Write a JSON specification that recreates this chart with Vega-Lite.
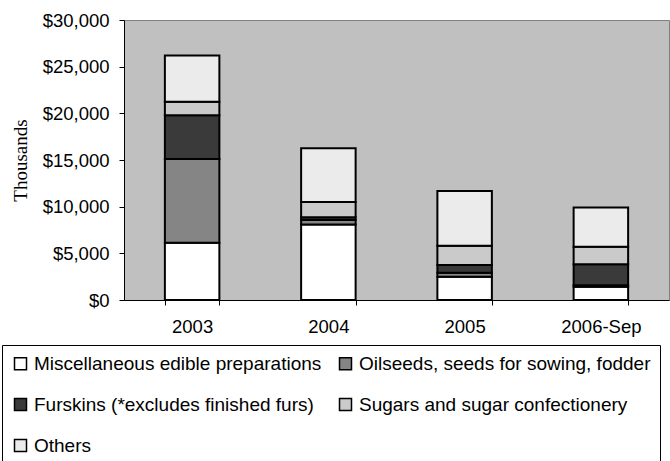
{
  "$schema": "https://vega.github.io/schema/vega-lite/v6.json",
  "width": 545,
  "height": 280,
  "autosize": "none",
  "padding": {"left": 124, "top": 20, "right": 1, "bottom": 161},
  "background": "white",
  "config": {
    "view": {"fill": "#c0c0c0", "stroke": "#808080", "strokeWidth": 1},
    "font": "Liberation Sans"
  },
  "data": {
    "values": [
      {"year": "2003", "cat": "Miscellaneous edible preparations", "o": 1, "v": 6140},
      {"year": "2003", "cat": "Oilseeds, seeds for sowing, fodder", "o": 2, "v": 8960},
      {"year": "2003", "cat": "Furskins (*excludes finished furs)", "o": 3, "v": 4700},
      {"year": "2003", "cat": "Sugars and sugar confectionery", "o": 4, "v": 1450},
      {"year": "2003", "cat": "Others", "o": 5, "v": 4950},
      {"year": "2004", "cat": "Miscellaneous edible preparations", "o": 1, "v": 8100},
      {"year": "2004", "cat": "Oilseeds, seeds for sowing, fodder", "o": 2, "v": 470},
      {"year": "2004", "cat": "Furskins (*excludes finished furs)", "o": 3, "v": 290},
      {"year": "2004", "cat": "Sugars and sugar confectionery", "o": 4, "v": 1640},
      {"year": "2004", "cat": "Others", "o": 5, "v": 5750},
      {"year": "2005", "cat": "Miscellaneous edible preparations", "o": 1, "v": 2500},
      {"year": "2005", "cat": "Oilseeds, seeds for sowing, fodder", "o": 2, "v": 430},
      {"year": "2005", "cat": "Furskins (*excludes finished furs)", "o": 3, "v": 820},
      {"year": "2005", "cat": "Sugars and sugar confectionery", "o": 4, "v": 2070},
      {"year": "2005", "cat": "Others", "o": 5, "v": 5860},
      {"year": "2006-Sep", "cat": "Miscellaneous edible preparations", "o": 1, "v": 1430},
      {"year": "2006-Sep", "cat": "Oilseeds, seeds for sowing, fodder", "o": 2, "v": 150},
      {"year": "2006-Sep", "cat": "Furskins (*excludes finished furs)", "o": 3, "v": 2240},
      {"year": "2006-Sep", "cat": "Sugars and sugar confectionery", "o": 4, "v": 1890},
      {"year": "2006-Sep", "cat": "Others", "o": 5, "v": 4190}
    ]
  },
  "mark": {"type": "bar", "stroke": "black", "strokeWidth": 2},
  "encoding": {
    "x": {
      "field": "year", "type": "nominal",
      "scale": {"paddingInner": 0.6, "paddingOuter": 0.3},
      "axis": {
        "title": null, "labelAngle": 0, "labelFontSize": 18.5, "labelColor": "black",
        "domainColor": "black", "tickColor": "black", "tickBand": "extent",
        "tickSize": 5, "labelPadding": 12
      }
    },
    "y": {
      "field": "v", "type": "quantitative", "stack": "zero",
      "scale": {"domain": [0, 30000]},
      "axis": {
        "title": "Thousands", "titleFont": "Liberation Serif", "titleFontWeight": "normal",
        "titleFontSize": 19, "titleColor": "black", "titlePadding": 12,
        "format": "$,.0f", "values": [0, 5000, 10000, 15000, 20000, 25000, 30000],
        "labelFontSize": 18.5, "labelColor": "black", "domainColor": "black",
        "tickColor": "black", "tickSize": 5, "labelPadding": 10, "grid": false
      }
    },
    "fill": {
      "field": "cat", "type": "nominal",
      "sort": ["Miscellaneous edible preparations", "Oilseeds, seeds for sowing, fodder", "Furskins (*excludes finished furs)", "Sugars and sugar confectionery", "Others"],
      "scale": {
        "domain": ["Miscellaneous edible preparations", "Oilseeds, seeds for sowing, fodder", "Furskins (*excludes finished furs)", "Sugars and sugar confectionery", "Others"],
        "range": ["#ffffff", "#858585", "#3a3a3a", "#cacaca", "#ebebeb"]
      },
      "legend": {
        "title": null, "orient": "none", "legendX": -122, "legendY": 325,
        "direction": "horizontal", "columns": 2, "columnPadding": 14, "rowPadding": 21,
        "padding": 9, "strokeColor": "black", "fillColor": "white",
        "symbolType": "square", "symbolSize": 144, "symbolStrokeColor": "black",
        "symbolStrokeWidth": 1.5, "labelFontSize": 19, "labelColor": "black",
        "labelOffset": 4, "labelLimit": 400
      }
    },
    "order": {"field": "o", "type": "quantitative"}
  }
}
